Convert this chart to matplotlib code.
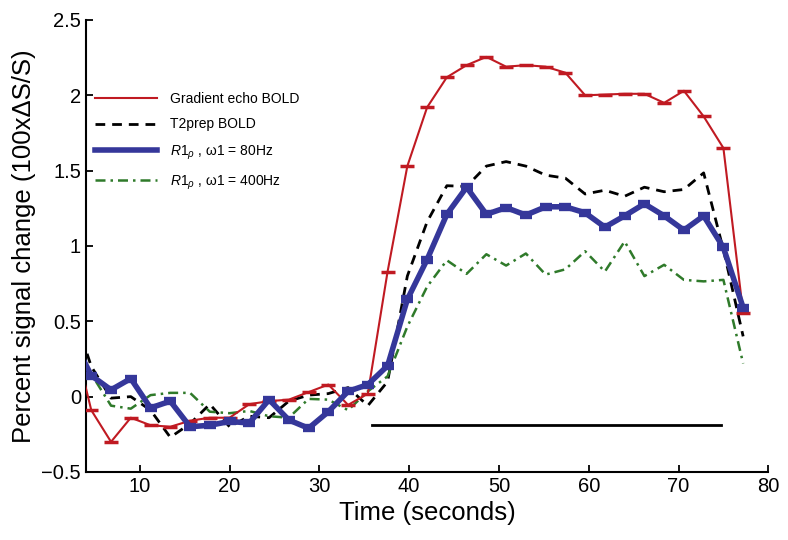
import matplotlib
matplotlib.use("Agg")
import matplotlib.pyplot as plt
from matplotlib.lines import Line2D
import numpy as np

plt.rcParams['font.family'] = ['Liberation Sans', 'DejaVu Sans']
plt.rcParams['mathtext.fontset'] = 'custom'
plt.rcParams['mathtext.rm'] = 'Liberation Sans'
plt.rcParams['mathtext.it'] = 'Liberation Sans:italic'

# time points (s); first point lies left of the visible range
time = [2.4, 4.6, 6.8, 9.0, 11.2, 13.4, 15.6, 17.8, 20.0, 22.2, 24.4, 26.6, 28.8,
        31.0, 33.2, 35.4, 37.6, 39.8, 42.0, 44.2, 46.4, 48.6, 50.8, 53.0, 55.2,
        57.4, 59.6, 61.8, 64.0, 66.2, 68.4, 70.6, 72.8, 75.0, 77.2]

gre_bold = [0.45, -0.09, -0.30, -0.14, -0.19, -0.20, -0.16, -0.14, -0.14, -0.05, -0.03,
            -0.02, 0.03, 0.08, -0.055, 0.02, 0.83, 1.53, 1.92, 2.12, 2.20, 2.255,
            2.19, 2.20, 2.19, 2.15, 2.00, 2.005, 2.01, 2.01, 1.95, 2.03, 1.86, 1.65, 0.555]

t2prep = [0.60, 0.20, -0.01, 0.00, -0.09, -0.27, -0.18, -0.05, -0.20, -0.13, -0.14,
          -0.03, 0.01, 0.02, 0.06, -0.06, 0.10, 0.80, 1.16, 1.40, 1.395, 1.53,
          1.56, 1.53, 1.47, 1.45, 1.345, 1.37, 1.33, 1.39, 1.36, 1.375, 1.485, 0.975, 0.40]

r1rho_80 = [0.40, 0.14, 0.045, 0.12, -0.075, -0.03, -0.20, -0.19, -0.165, -0.175, -0.02,
            -0.155, -0.21, -0.10, 0.035, 0.08, 0.205, 0.645, 0.91, 1.21, 1.39, 1.21,
            1.255, 1.205, 1.26, 1.26, 1.22, 1.125, 1.20, 1.28, 1.20, 1.105, 1.20, 0.99, 0.59]

r1rho_400 = [0.35, 0.15, -0.06, -0.08, 0.01, 0.025, 0.025, -0.10, -0.11, -0.095, -0.13,
             -0.14, -0.015, -0.02, -0.09, 0.035, 0.135, 0.465, 0.73, 0.905, 0.815, 0.945,
             0.87, 0.95, 0.81, 0.845, 0.965, 0.83, 1.03, 0.80, 0.875, 0.775, 0.765, 0.775, 0.22]

stim_on = [35.9, 74.7]
stim_level = [-0.19, -0.19]

labels = ['Gradient echo BOLD', 'T2prep BOLD',
          r'$R1_{\rho}$ , ω$\mathit{1}$ = 80Hz', r'$R1_{\rho}$ , ω$\mathit{1}$ = 400Hz']

red = '#c01a22'
blue = '#35379a'
green = '#2f7a2a'

fig = plt.figure(figsize=(7.88, 5.40), dpi=100)
ax = fig.add_axes([0.109, 0.126, 0.866, 0.837])

ax.plot(time, gre_bold, color=red, lw=1.5, marker='_', ms=10, mew=2.5, zorder=3)
ax.plot(time, t2prep, color='black', lw=2.0, ls=(0, (3.5, 2.5)), zorder=2)
ax.plot(time, r1rho_80, color=blue, lw=4, marker='_', ms=9, mew=6, zorder=4)
ax.plot(time, r1rho_400, color=green, lw=1.8, ls=(0, (4, 2, 1, 2)), zorder=2)
ax.plot(stim_on, stim_level, color='black', lw=2)

ax.set_xlim(4, 80)
ax.set_ylim(-0.5, 2.5)
ax.set_xticks([10, 20, 30, 40, 50, 60, 70, 80])
ax.set_yticks([-0.5, 0, 0.5, 1, 1.5, 2, 2.5])
ax.set_yticklabels(['−0.5', '0', '0.5', '1', '1.5', '2', '2.5'])

for s in ['top', 'right']:
    ax.spines[s].set_visible(False)
for s in ['left', 'bottom']:
    ax.spines[s].set_linewidth(1.5)
ax.tick_params(direction='in', length=5, width=1.3, labelsize=14.5)

ax.set_xlabel('Time (seconds)', fontsize=18.5, labelpad=4)
ax.set_ylabel('Percent signal change (100xΔS/S)', fontsize=18.5, labelpad=4)

handles = [Line2D([], [], color=red, lw=1.5),
           Line2D([], [], color='black', lw=2.0, ls=(0, (3.5, 2.5))),
           Line2D([], [], color=blue, lw=4),
           Line2D([], [], color=green, lw=1.8, ls=(0, (4, 2, 1, 2)))]
ax.legend(handles, labels, loc='upper left', bbox_to_anchor=(0.001, 0.86),
          frameon=False, fontsize=10, handlelength=4.5, handletextpad=0.9,
          labelspacing=0.85, borderaxespad=0.2)

fig.savefig('out.png', dpi=100)
